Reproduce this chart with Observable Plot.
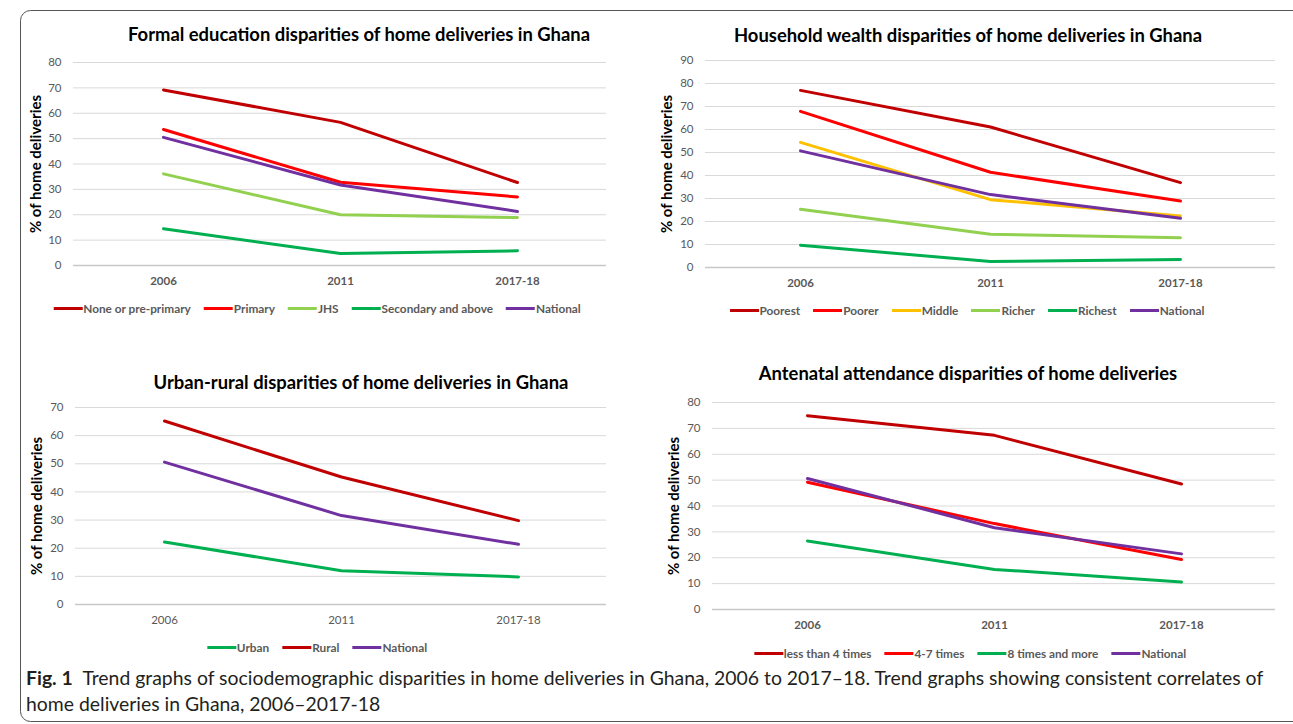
<!DOCTYPE html>
<html>
<head>
<meta charset="utf-8">
<script src="https://cdn.jsdelivr.net/npm/d3@7"></script>
<script src="https://cdn.jsdelivr.net/npm/@observablehq/plot@0.6"></script>
<style>
  html, body { margin: 0; padding: 0; background: #fff; }
  #fig { position: relative; width: 1293px; height: 724px; background: #fff; overflow: hidden; font-family: Lato, "Liberation Sans", sans-serif; }
  .ttl { position: absolute; transform: translateX(-50%); white-space: nowrap; font-weight: bold; font-size: 18.4px; color: #000; line-height: 1; }
  .leg { position: absolute; transform: translateX(-50%); display: flex; align-items: center; white-space: nowrap; font-size: 11.8px; font-weight: bold; color: #595959; line-height: 1; }
  .leg .it { display: flex; align-items: center; margin: 0 6.5px; }
  .leg .sw { display: inline-block; width: 29px; height: 3px; margin-right: 1px; }
  .panel { position: absolute; }
  #cap { position: absolute; left: 26px; top: 665px; font-size: 19.4px; line-height: 26px; color: #231f20; white-space: nowrap; }
  #cap b { font-weight: bold; }
</style>
</head>
<body>
<div id="fig"></div>
<script>
// ---------- DATA ----------
const years = ["2006", "2011", "2017-18"];
const yTitle = "% of home deliveries";

// Panel 1: formal education
const eduTitle = "Formal education disparities of home deliveries in Ghana";
const eduNames = ["None or pre-primary", "Primary", "JHS", "Secondary and above", "National"];
const eduColors = ["#C00000", "#FF0000", "#92D050", "#00B050", "#7030A0"];
const eduNone = [69.2, 56.4, 32.7];
const eduPrimary = [53.6, 32.8, 27.0];
const eduJHS = [36.1, 20.0, 18.9];
const eduSecondary = [14.5, 4.7, 5.8];
const eduNational = [50.5, 31.7, 21.3];

// Panel 2: household wealth
const wealthTitle = "Household wealth disparities of home deliveries in Ghana";
const wealthNames = ["Poorest", "Poorer", "Middle", "Richer", "Richest", "National"];
const wealthColors = ["#C00000", "#FF0000", "#FFC000", "#92D050", "#00B050", "#7030A0"];
const wealthPoorest = [77.0, 61.1, 36.9];
const wealthPoorer = [67.9, 41.4, 28.9];
const wealthMiddle = [54.4, 29.5, 22.4];
const wealthRicher = [25.3, 14.5, 12.9];
const wealthRichest = [9.7, 2.6, 3.5];
const wealthNational = [50.7, 31.7, 21.4];

// Panel 3: urban-rural
const urbanTitle = "Urban-rural disparities of home deliveries in Ghana";
const urbanNames = ["Urban", "Rural", "National"];
const urbanColors = ["#00B050", "#C00000", "#7030A0"];
const urbanUrban = [22.2, 12.0, 9.8];
const urbanRural = [65.2, 45.3, 29.8];
const urbanNational = [50.6, 31.6, 21.4];

// Panel 4: antenatal attendance
const ancTitle = "Antenatal attendance disparities of home deliveries";
const ancNames = ["less than 4 times", "4-7 times", "8 times and more", "National"];
const ancColors = ["#C00000", "#FF0000", "#00B050", "#7030A0"];
const ancLess4 = [74.9, 67.3, 48.5];
const anc4to7 = [49.2, 33.2, 19.3];
const anc8plus = [26.5, 15.5, 10.6];
const ancNational = [50.6, 31.6, 21.5];

const captionBold = "Fig. 1";
const captionLine1 = "Trend graphs of sociodemographic disparities in home deliveries in Ghana, 2006 to 2017–18. Trend graphs showing consistent correlates of";
const captionLine2 = "home deliveries in Ghana, 2006–2017-18";

// ---------- BUILD ----------
const fig = document.getElementById("fig");

// outer rounded frame
const ns = "http://www.w3.org/2000/svg";
const frame = document.createElementNS(ns, "svg");
frame.setAttribute("width", 1293); frame.setAttribute("height", 724);
frame.style.position = "absolute"; frame.style.left = "0"; frame.style.top = "0";
const rect = document.createElementNS(ns, "rect");
rect.setAttribute("x", 20.5); rect.setAttribute("y", 10.5);
rect.setAttribute("width", 1290); rect.setAttribute("height", 711);
rect.setAttribute("rx", 10); rect.setAttribute("fill", "none");
rect.setAttribute("stroke", "#555"); rect.setAttribute("stroke-width", 1);
frame.appendChild(rect);
fig.appendChild(frame);

function toRows(names, arrays) {
  const rows = [];
  names.forEach((n, i) => arrays[i].forEach((v, j) => rows.push({series: n, year: years[j], value: v})));
  return rows;
}

function panel(cfg) {
  const rows = toRows(cfg.names, cfg.arrays);
  const ticks = d3.range(0, cfg.yMax + 1, 10);
  const ml = cfg.x0 - cfg.left, mr = cfg.left + cfg.w - cfg.x1;
  const mt = cfg.y0 - cfg.top, mb = cfg.top + cfg.h - cfg.y1;
  const chart = Plot.plot({
    width: cfg.w, height: cfg.h,
    marginLeft: ml, marginRight: mr, marginTop: mt, marginBottom: mb,
    style: {fontFamily: "Lato, 'Liberation Sans', sans-serif", fontSize: "11.5px", color: "#595959", background: "transparent", overflow: "visible"},
    x: {type: "point", domain: years, padding: 0.5, label: null},
    y: {domain: [0, cfg.yMax], label: null},
    color: {domain: cfg.names, range: cfg.colors},
    marks: [
      Plot.gridY(ticks.filter(t => t > 0), {stroke: "#d9d9d9", strokeOpacity: 1, strokeWidth: 1}),
      Plot.ruleY([0], {stroke: "#c8c8c8", strokeWidth: 1.5}),
      Plot.axisY(ticks, {tickSize: 0, tickPadding: 12, label: null, fill: "#595959", fontSize: 11.5}),
      Plot.axisX(years, {tickSize: 0, tickPadding: cfg.xPad, label: null, fill: "#595959", fontSize: 11.5, fontWeight: cfg.xBold ? "bold" : "normal"}),
      Plot.text([yTitle], {frameAnchor: "left", rotate: -90, dx: cfg.yLabelX - cfg.x0, textAnchor: "middle", lineAnchor: "middle", fontWeight: "bold", fontSize: 15, fill: "#000"}),
      Plot.line(rows, {x: "year", y: "value", z: "series", stroke: "series", strokeWidth: 3, strokeLinejoin: "round"})
    ]
  });
  const wrap = document.createElement("div");
  wrap.className = "panel";
  wrap.style.left = cfg.left + "px"; wrap.style.top = cfg.top + "px";
  wrap.appendChild(chart);
  fig.appendChild(wrap);

  const t = document.createElement("div");
  t.className = "ttl"; t.textContent = cfg.title;
  t.style.left = cfg.titleX + "px"; t.style.top = (cfg.titleY - 10) + "px";
  fig.appendChild(t);

  const lg = document.createElement("div");
  lg.className = "leg";
  lg.style.left = cfg.legX + "px"; lg.style.top = (cfg.legY - 6) + "px";
  cfg.names.forEach((n, i) => {
    const it = document.createElement("span"); it.className = "it";
    const sw = document.createElement("span"); sw.className = "sw"; sw.style.background = cfg.colors[i];
    const tx = document.createElement("span"); tx.textContent = n;
    it.appendChild(sw); it.appendChild(tx); lg.appendChild(it);
  });
  fig.appendChild(lg);
}

panel({left: 0, top: 40, w: 640, h: 260, x0: 73, x1: 606, y0: 62, y1: 265, yMax: 80,
  names: eduNames, colors: eduColors, arrays: [eduNone, eduPrimary, eduJHS, eduSecondary, eduNational],
  title: eduTitle, titleX: 359, titleY: 35, legX: 317, legY: 309, yLabelX: 36, xBold: true, xPad: 11});

panel({left: 640, top: 40, w: 653, h: 260, x0: 705, x1: 1275, y0: 60, y1: 267, yMax: 90,
  names: wealthNames, colors: wealthColors, arrays: [wealthPoorest, wealthPoorer, wealthMiddle, wealthRicher, wealthRichest, wealthNational],
  title: wealthTitle, titleX: 968, titleY: 36, legX: 967, legY: 311, yLabelX: 667, xBold: true, xPad: 11});

panel({left: 0, top: 380, w: 640, h: 260, x0: 75, x1: 606, y0: 407, y1: 604, yMax: 70,
  names: urbanNames, colors: urbanColors, arrays: [urbanUrban, urbanRural, urbanNational],
  title: urbanTitle, titleX: 361, titleY: 383, legX: 317, legY: 648, yLabelX: 37, xBold: false, xPad: 11});

panel({left: 640, top: 380, w: 653, h: 260, x0: 712, x1: 1275, y0: 402, y1: 609, yMax: 80,
  names: ancNames, colors: ancColors, arrays: [ancLess4, anc4to7, anc8plus, ancNational],
  title: ancTitle, titleX: 968, titleY: 374, legX: 970, legY: 654, yLabelX: 674, xBold: true, xPad: 11});

const cap = document.createElement("div");
cap.id = "cap";
const b = document.createElement("b"); b.textContent = captionBold;
cap.appendChild(b);
cap.appendChild(document.createTextNode("\u2002" + captionLine1));
cap.appendChild(document.createElement("br"));
cap.appendChild(document.createTextNode(captionLine2));
fig.appendChild(cap);
</script>
</body>
</html>
